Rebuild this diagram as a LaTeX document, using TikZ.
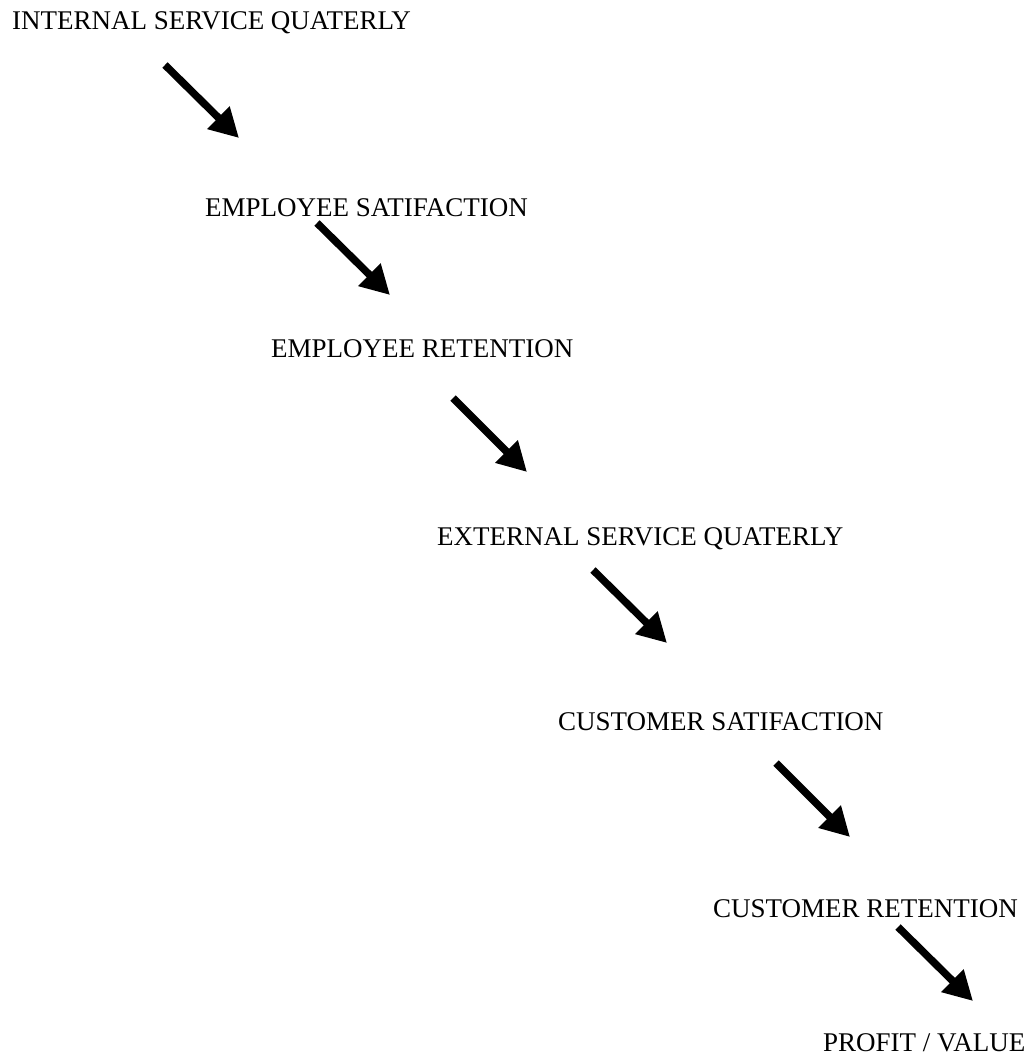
\documentclass[tikz,border=0pt]{standalone}
\usepackage{fontspec}
\setmainfont{Liberation Serif}
\usetikzlibrary{arrows.meta}
\begin{document}
\begin{tikzpicture}[x=1pt,y=-1pt,
  lbl/.style={anchor=base west,inner sep=0pt,font=\fontsize{27}{31}\selectfont},
  flow/.style={line width=7.5pt,-{Triangle[length=29pt,width=30pt]}}]
\useasboundingbox (0,0) rectangle (1027,1059);
\node[lbl] (isq) at (12,30) {INTERNAL SERVICE QUATERLY};
\node[lbl] (es) at (205,217) {EMPLOYEE SATIFACTION};
\node[lbl] (er) at (271,357) {EMPLOYEE RETENTION};
\node[lbl] (esq) at (437,545) {EXTERNAL SERVICE QUATERLY};
\node[lbl] (cs) at (558,730) {CUSTOMER SATIFACTION};
\node[lbl] (cr) at (713,917) {CUSTOMER RETENTION};
\node[lbl] (pv) at (823,1051) {PROFIT / VALUE};
\coordinate (a1s) at (165,65);  \coordinate (a1e) at (239,138);
\coordinate (a2s) at (317,223); \coordinate (a2e) at (390,295);
\coordinate (a3s) at (453,398); \coordinate (a3e) at (527,472);
\coordinate (a4s) at (593,570); \coordinate (a4e) at (667,643);
\coordinate (a5s) at (776,763); \coordinate (a5e) at (850,837);
\coordinate (a6s) at (898,927); \coordinate (a6e) at (973,1001);
\draw[flow] (a1s) -- (a1e);
\draw[flow] (a2s) -- (a2e);
\draw[flow] (a3s) -- (a3e);
\draw[flow] (a4s) -- (a4e);
\draw[flow] (a5s) -- (a5e);
\draw[flow] (a6s) -- (a6e);
\end{tikzpicture}
\end{document}
